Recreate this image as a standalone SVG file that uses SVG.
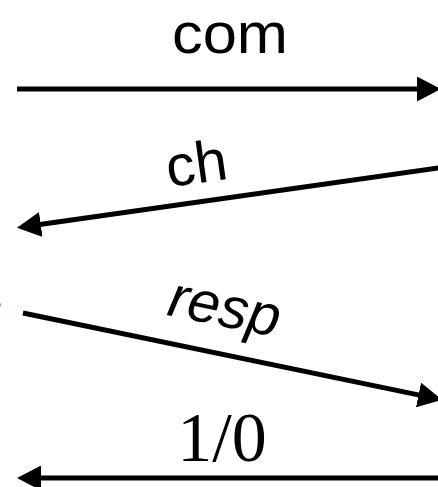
<svg xmlns="http://www.w3.org/2000/svg" width="438" height="487" viewBox="0 0 438 487">
<defs>
<style>
.ln{stroke:#000;stroke-width:5;fill:none;marker-end:url(#ah)}
.sans{font-family:"Liberation Sans",Arial,sans-serif;fill:#000}
.serif{font-family:"Liberation Serif","Times New Roman",serif;fill:#000}
</style>
<marker id="ah" markerUnits="userSpaceOnUse" viewBox="0 0 24 25" markerWidth="24" markerHeight="25" refX="1" refY="12.5" orient="auto">
<path d="M0,0 L24,12.5 L0,25 Z" fill="#000"/>
</marker>
</defs>
<rect width="438" height="487" fill="#fff"/>
<g id="connectors">
<line class="ln" x1="17" y1="89" x2="418" y2="89"/>
<line class="ln" x1="442" y1="167.5" x2="39.8" y2="224.6"/>
<line class="ln" x1="23" y1="313" x2="419.5" y2="395.1"/>
<line class="ln" x1="442" y1="478" x2="40" y2="478"/>
</g>
<g id="labels">
<text class="sans" x="230" y="53" font-size="58" text-anchor="middle" textLength="116" lengthAdjust="spacingAndGlyphs">com</text>
<text class="sans" transform="translate(199,183) rotate(-8)" font-size="58" text-anchor="middle">ch</text>
<text class="sans" transform="translate(221,326) rotate(11.5)" font-size="58" font-style="italic" text-anchor="middle">resp</text>
<text class="serif" x="222" y="461" font-size="70" text-anchor="middle">1/0</text>
</g>
<circle id="green-mark" cx="-0.5" cy="305" r="2" fill="#8c8"/>
</svg>
